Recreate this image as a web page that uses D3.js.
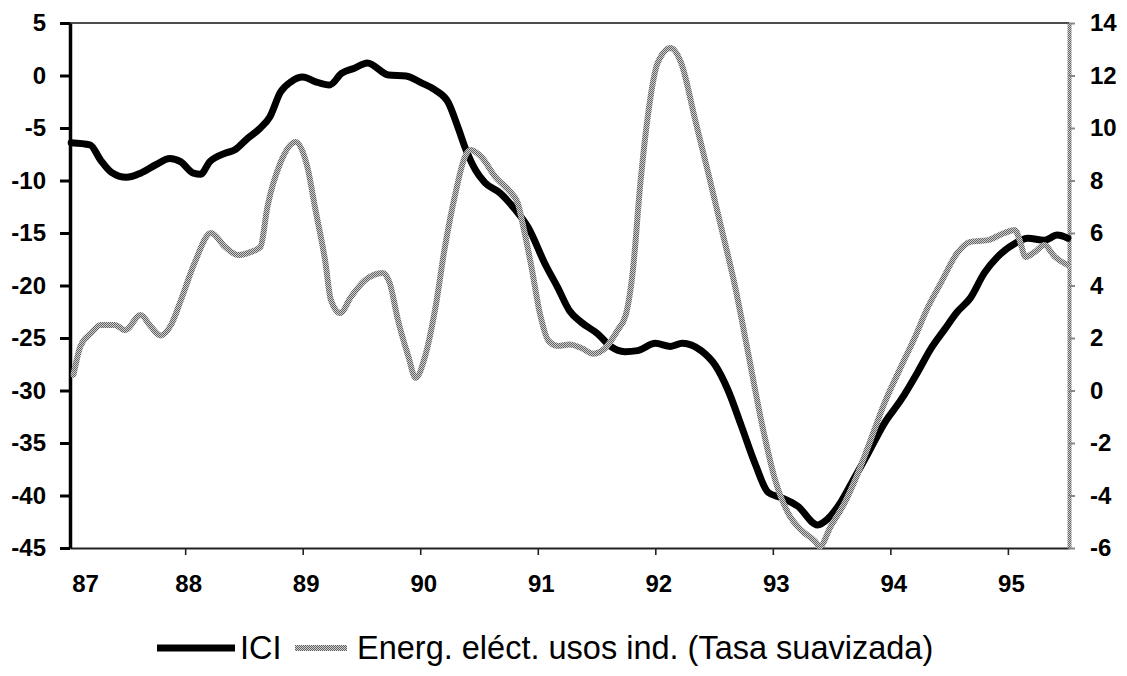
<!DOCTYPE html>
<html><head><meta charset="utf-8">
<script src="https://cdn.jsdelivr.net/npm/d3@7"></script>
<style>body{margin:0;background:#fff}svg{display:block}</style>
</head><body><svg id="c" width="1127" height="676"></svg>
<script>
// ---- data (years as fractional values, e.g. 87.5 = mid-1987) ----
const seriesNames = ["ICI", "Energ. eléct. usos ind. (Tasa suavizada)"];
const iciYears = [87.03,87.19,87.28,87.37,87.50,87.62,87.75,87.87,87.96,88.07,88.13,88.21,88.34,88.42,88.53,88.64,88.72,88.81,88.90,89.00,89.11,89.23,89.33,89.44,89.55,89.73,89.88,90.01,90.13,90.24,90.32,90.39,90.47,90.55,90.68,90.81,90.92,91.06,91.17,91.27,91.37,91.51,91.62,91.74,91.85,92.00,92.13,92.23,92.39,92.51,92.62,92.73,92.85,92.96,93.07,93.21,93.38,93.47,93.58,93.70,93.81,93.95,94.09,94.23,94.34,94.46,94.57,94.68,94.80,94.91,95.06,95.17,95.31,95.42,95.51];
const iciValues = [-6.4,-6.6,-8.05,-9.2,-9.7,-9.3,-8.5,-7.9,-8.2,-9.3,-9.4,-8.2,-7.4,-7.1,-6.0,-5.0,-3.95,-1.6,-0.6,-0.15,-0.6,-0.9,0.2,0.7,1.2,0.05,-0.05,-0.7,-1.4,-2.6,-4.9,-7.1,-9.0,-10.2,-11.2,-12.8,-14.5,-17.9,-20.2,-22.4,-23.5,-24.6,-25.8,-26.3,-26.2,-25.5,-25.8,-25.5,-26.2,-27.6,-30.0,-33.3,-37.0,-39.7,-40.2,-41.0,-42.8,-42.2,-40.6,-38.2,-36.0,-33.1,-30.9,-28.3,-26.1,-24.2,-22.5,-21.2,-18.8,-17.3,-16.0,-15.5,-15.7,-15.2,-15.5];
const energYears = [87.05,87.11,87.20,87.28,87.40,87.49,87.62,87.71,87.79,87.88,87.96,88.08,88.22,88.34,88.45,88.56,88.64,88.70,88.81,88.94,89.04,89.11,89.19,89.24,89.32,89.41,89.53,89.68,89.74,89.81,89.90,89.96,90.04,90.13,90.21,90.30,90.38,90.43,90.52,90.64,90.75,90.83,90.87,90.94,91.02,91.09,91.17,91.27,91.37,91.47,91.57,91.68,91.75,91.81,91.87,91.94,92.02,92.13,92.22,92.34,92.45,92.56,92.68,92.79,92.90,93.02,93.13,93.24,93.36,93.40,93.49,93.61,93.70,93.81,93.95,94.09,94.21,94.32,94.43,94.57,94.68,94.83,94.97,95.06,95.10,95.15,95.23,95.31,95.40,95.51];
const energValues = [0.6,1.7,2.19,2.5,2.5,2.3,2.88,2.42,2.1,2.5,3.4,4.86,6.0,5.47,5.16,5.28,5.47,7.0,8.67,9.47,8.51,6.85,4.97,3.45,2.95,3.56,4.2,4.48,4.1,2.69,1.28,0.48,1.28,3.18,5.47,7.52,8.9,9.16,8.9,8.13,7.64,7.14,6.38,4.86,2.9,1.9,1.7,1.75,1.62,1.4,1.6,2.3,2.9,4.6,7.75,10.57,12.48,13.05,12.48,10.3,8.29,6.23,3.94,1.43,-1.12,-3.41,-4.67,-5.31,-5.75,-5.95,-5.2,-4.29,-3.41,-2.15,-0.48,0.9,2.04,3.18,4.1,5.24,5.66,5.73,6.0,6.11,5.73,5.09,5.28,5.54,5.09,4.78];
const xTicks = [87,88,89,90,91,92,93,94,95];
const xTickLabels = ["87","88","89","90","91","92","93","94","95"];
const leftTicks = [5,0,-5,-10,-15,-20,-25,-30,-35,-40,-45];
const rightTicks = [14,12,10,8,6,4,2,0,-2,-4,-6];

// ---- layout ----
const L = 70, R = 1069, T = 23, B = 548;
const svg = d3.select("#c");
const defs = svg.append("defs");
const pat = defs.append("pattern").attr("id","dither").attr("width",2).attr("height",2).attr("patternUnits","userSpaceOnUse");
pat.append("rect").attr("width",2).attr("height",2).attr("fill","#cfcfcf");
pat.append("rect").attr("width",1).attr("height",1).attr("fill","#636363");
pat.append("rect").attr("x",1).attr("y",1).attr("width",1).attr("height",1).attr("fill","#636363");

const x = d3.scaleLinear().domain([87.02, 95.52]).range([L, R]);
const yL = d3.scaleLinear().domain([-45, 5]).range([B, T]);
const yR = d3.scaleLinear().domain([-6, 14]).range([B, T]);

const font = "'Liberation Sans', Arial, sans-serif";
const fmt = d => String(d); // plain hyphen-minus as in the original

// top border
svg.append("line").attr("x1",L).attr("x2",R).attr("y1",T).attr("y2",T).attr("stroke","#111").attr("stroke-width",1.6);

// x axis
const gx = svg.append("g").attr("transform",`translate(0,${B})`)
  .call(d3.axisBottom(x).tickValues(xTicks).tickFormat((d,i)=>xTickLabels[i]).tickSize(7).tickPadding(20).tickSizeOuter(0));
gx.select(".domain").attr("stroke","#222").attr("stroke-width",2);
gx.selectAll(".tick line").attr("stroke","#222").attr("stroke-width",1.6);
gx.selectAll(".tick text").attr("font-family",font).attr("font-weight","bold").attr("font-size",24).attr("fill","#000").attr("dx",3);
gx.selectAll(".tick").filter(d=>d===xTicks[0]).each(function(){
  d3.select(this).select("line").remove();
  d3.select(this).select("text").attr("text-anchor","start").attr("dx",4);
});

// left axis
const gl = svg.append("g").attr("transform",`translate(${L},0)`)
  .call(d3.axisLeft(yL).tickValues(leftTicks).tickFormat(fmt).tickSize(10).tickPadding(14).tickSizeOuter(0));
gl.select(".domain").attr("stroke","#000").attr("stroke-width",3.5);
gl.selectAll(".tick line").attr("stroke","#000").attr("stroke-width",3);
gl.selectAll(".tick text").attr("font-family",font).attr("font-weight","bold").attr("font-size",24).attr("fill","#000");

// right axis
const gr = svg.append("g").attr("transform",`translate(${R},0)`)
  .call(d3.axisRight(yR).tickValues(rightTicks).tickFormat(fmt).tickSize(6).tickPadding(15).tickSizeOuter(0));
gr.select(".domain").attr("stroke","url(#dither)").attr("stroke-width",4);
gr.selectAll(".tick line").attr("stroke","#888").attr("stroke-width",2);
gr.selectAll(".tick text").attr("font-family",font).attr("font-weight","bold").attr("font-size",24).attr("fill","#000");

// lines
const iciData = iciYears.map((d,i)=>[d, iciValues[i]]);
const energData = energYears.map((d,i)=>[d, energValues[i]]);
const lineL = d3.line().x(d=>x(d[0])).y(d=>yL(d[1])).curve(d3.curveMonotoneX);
const lineR = d3.line().x(d=>x(d[0])).y(d=>yR(d[1])).curve(d3.curveMonotoneX);
svg.append("path").datum(iciData).attr("d",lineL).attr("fill","none").attr("stroke","#000").attr("stroke-width",7).attr("stroke-linejoin","round").attr("stroke-linecap","round");
svg.append("path").datum(energData).attr("d",lineR).attr("fill","none").attr("stroke","url(#dither)").attr("stroke-width",6).attr("stroke-linejoin","round").attr("stroke-linecap","round");

// legend
const lg = svg.append("g");
const ly = 648;
lg.append("line").attr("x1",157).attr("x2",235).attr("y1",ly).attr("y2",ly).attr("stroke","#000").attr("stroke-width",7);
lg.append("text").attr("x",240).attr("y",ly+11).attr("font-family",font).attr("font-size",32.5).attr("fill","#000").text(seriesNames[0]);
lg.append("line").attr("x1",295).attr("x2",347).attr("y1",ly).attr("y2",ly).attr("stroke","url(#dither)").attr("stroke-width",6);
lg.append("text").attr("x",357).attr("y",ly+11).attr("font-family",font).attr("font-size",32.5).attr("fill","#000").text(seriesNames[1]);
</script>
</body></html>
